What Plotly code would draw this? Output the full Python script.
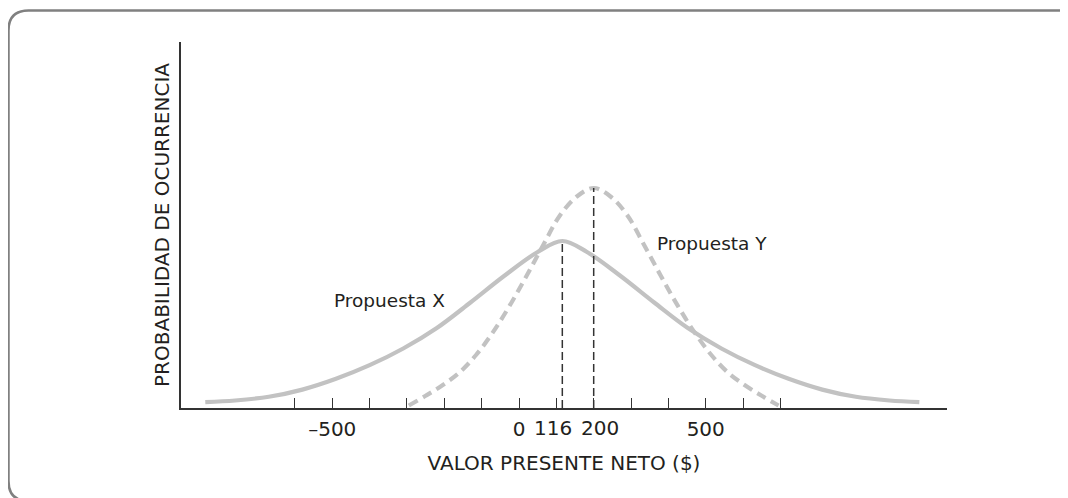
import plotly.graph_objects as go

# ---- data (x in $, y = relative probability of occurrence) ----
x_prop_x = [-840, -760, -670, -580, -490, -400, -310, -220, -130, -40, 50, 116,
            182, 272, 362, 452, 542, 632, 722, 812, 902, 992, 1072]
y_prop_x = [5.8, 7.5, 11.2, 18.4, 29.2, 42.8, 59.5, 80.0, 105.5, 132, 156, 167,
            156, 132, 105.5, 80.0, 59.5, 42.8, 29.2, 18.4, 11.2, 7.5, 5.8]

x_prop_y = [-295, -250, -205, -160, -115, -70, -25, 20, 65, 110, 155, 200,
            245, 290, 335, 380, 425, 470, 515, 560, 605, 650, 695]
y_prop_y = [2.5, 12.2, 22.7, 35.3, 53, 75.6, 102.3, 132, 163, 192.8, 211.5, 220,
            211.5, 192.8, 163, 132, 102.3, 75.6, 53, 35.3, 22.7, 12.2, 2.5]

mean_x = 116
mean_y = 200
tick_values = [-600, -500, -400, -300, -200, -100, 0, 100, 200, 300, 400, 500, 600, 700]
tick_labels = {-500: "\u2013500", 0: "0", 500: "500"}
x_title = "VALOR PRESENTE NETO ($)"
y_title = "PROBABILIDAD DE OCURRENCIA"
label_x = "Propuesta X"
label_y = "Propuesta Y"

# the page body has an 8px margin, so the figure is 8px smaller than the window
OFF = 8
W, H = 1068 - OFF, 498 - OFF
L, R, T, B = 181 - OFF, 121, 42 - OFF, 90
PW, PH = W - L - R, H - T - B

TXT = "#231f20"
AX = "#333333"
CURVE = "#c2c2c2"
FONT = "DejaVu Sans"

fig = go.Figure()
fig.add_trace(go.Scatter(x=x_prop_x, y=y_prop_x, mode="lines",
                         line=dict(color=CURVE, width=4.2, shape="spline", smoothing=1.0),
                         hoverinfo="skip", showlegend=False))
fig.add_trace(go.Scatter(x=x_prop_y, y=y_prop_y, mode="lines",
                         line=dict(color=CURVE, width=4.2, dash="10px,6px", shape="spline", smoothing=1.0),
                         hoverinfo="skip", showlegend=False))
peak_x = max(y_prop_x)
peak_y = max(y_prop_y)
fig.add_trace(go.Scatter(x=[mean_x, mean_x], y=[0, peak_x], mode="lines",
                         line=dict(color=AX, width=1.5, dash="8px,4px"),
                         hoverinfo="skip", showlegend=False))
fig.add_trace(go.Scatter(x=[mean_y, mean_y], y=[0, peak_y], mode="lines",
                         line=dict(color=AX, width=1.5, dash="8px,4px"),
                         hoverinfo="skip", showlegend=False))


def P(page_x, page_y):
    fx, fy = page_x - OFF, page_y - OFF
    return f"{(fx - L) / PW:.5f},{(H - B - fy) / PH:.5f}"


# rounded frame (partly cut by the page edge)
x0, y0, x1, y1, r = 8.5, 10.5, 1080, 501, 20
path = (f"M {P(x0 + r, y0)} L {P(x1 - r, y0)} Q {P(x1, y0)} {P(x1, y0 + r)} "
        f"L {P(x1, y1 - r)} Q {P(x1, y1)} {P(x1 - r, y1)} "
        f"L {P(x0 + r, y1)} Q {P(x0, y1)} {P(x0, y1 - r)} "
        f"L {P(x0, y0 + r)} Q {P(x0, y0)} {P(x0 + r, y0)} Z")
fig.add_shape(type="path", path=path, xref="paper", yref="paper",
              line=dict(color="#808080", width=2.5), layer="below")

fig.update_layout(
    width=W, height=H, autosize=False,
    margin=dict(l=L, r=R, t=T, b=B),
    paper_bgcolor="white", plot_bgcolor="white",
    font=dict(family=FONT, color=TXT, size=20),
    xaxis=dict(range=[-905, 1146], showgrid=False, zeroline=False,
               showline=True, linecolor=AX, linewidth=1.5,
               ticks="inside", ticklen=10, tickwidth=1.2, tickcolor=AX,
               tickvals=tick_values,
               ticktext=[tick_labels.get(v, "") for v in tick_values],
               tickfont=dict(size=20, color=TXT, family=FONT),
               ticklabelstandoff=2,
               title=dict(text=x_title, font=dict(size=20, color=TXT, family=FONT), standoff=16),
               automargin=False, fixedrange=True),
    yaxis=dict(range=[0, 366], showgrid=False, zeroline=False,
               showline=True, linecolor=AX, linewidth=1.5,
               ticks="", showticklabels=False,
               title=dict(text=y_title, font=dict(size=20, color=TXT, family=FONT), standoff=4),
               automargin=False, fixedrange=True),
)

for txt, xv, shift in [(str(mean_x), mean_x, -9), (str(mean_y), mean_y, 6.5)]:
    fig.add_annotation(x=xv, y=0, xref="x", yref="y", text=txt, showarrow=False,
                       xanchor="center", yanchor="top", yshift=-6, xshift=shift,
                       font=dict(size=20, color=TXT, family=FONT))

fig.add_annotation(x=-348, y=107.5, xref="x", yref="y", text=label_x, showarrow=False,
                   xanchor="center", yanchor="middle", font=dict(size=18.5, color=TXT, family=FONT))
fig.add_annotation(x=516, y=164.5, xref="x", yref="y", text=label_y, showarrow=False,
                   xanchor="center", yanchor="middle", font=dict(size=18.5, color=TXT, family=FONT))

fig.write_html("out.html")
